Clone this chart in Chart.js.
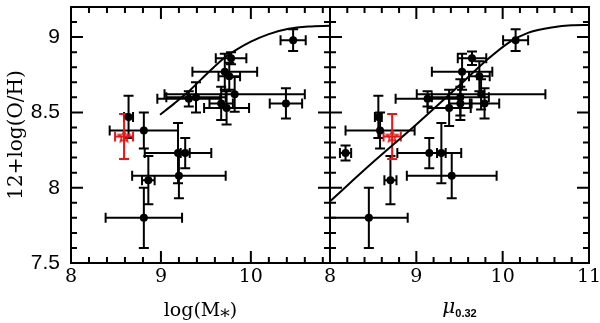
<!DOCTYPE html>
<html>
<head>
<meta charset="utf-8">
<script src="https://cdn.jsdelivr.net/npm/chart.js@4.4.1/dist/chart.umd.min.js"></script>
<style>
html, body { margin: 0; padding: 0; background: #fff; }
#wrap { position: relative; width: 600px; height: 323px; }
#wrap canvas { position: absolute; left: 0; top: 0; }
</style>
</head>
<body>
<div id="wrap">
  <canvas id="cvMass" width="600" height="323"></canvas>
  <canvas id="cvMu" width="600" height="323"></canvas>
</div>
<script>
//______________________________________________________
// left panel : 12+log(O/H) vs log(M*)
var massX    = [10.47, 9.78, 9.71, 9.76, 9.82, 9.31, 9.39, 9.67, 9.73, 10.39, 8.64, 8.81, 9.19, 9.27, 9.20, 8.86, 8.81];
var massY    = [8.98, 8.86, 8.77, 8.74, 8.62, 8.59, 8.60, 8.56, 8.53, 8.56, 8.47, 8.38, 8.23, 8.23, 8.08, 8.05, 7.80];
var massXErr = [0.14, 0.17, 0.36, 0.12, 0.78, 0.35, 0.33, 0.13, 0.25, 0.18, 0.05, 0.38, 0.37, 0.05, 0.52, 0.07, 0.425];
var massYErr = [0.073, 0.04, 0.12, 0.09, 0.115, 0.05, 0.10, 0.11, 0.11, 0.10, 0.14, 0.12, 0.20, 0.10, 0.15, 0.16, 0.20];
var redMassX = [8.59], redMassY = [8.34], redMassXErr = [0.10], redMassYErr = [0.15];
var fitMassX = [8.99, 9.15, 9.31, 9.50, 9.71, 9.85, 10.0, 10.2, 10.42, 10.64, 10.88];
var fitMassY = [8.485, 8.56, 8.64, 8.75, 8.865, 8.92, 8.97, 9.02, 9.055, 9.07, 9.075];

// right panel : 12+log(O/H) vs mu_0.32
var muX    = [10.15, 9.645, 9.53, 9.73, 9.75, 9.13, 9.51, 9.38, 9.51, 9.79, 8.56, 8.58, 9.15, 9.29, 9.41, 8.70, 8.45, 8.18];
var muY    = [8.98, 8.86, 8.77, 8.74, 8.62, 8.59, 8.60, 8.53, 8.56, 8.56, 8.47, 8.38, 8.23, 8.23, 8.08, 8.05, 7.80, 8.23];
var muXErr = [0.145, 0.165, 0.35, 0.12, 0.745, 0.37, 0.33, 0.25, 0.13, 0.17, 0.04, 0.40, 0.37, 0.05, 0.52, 0.07, 0.45, 0.065];
var muYErr = [0.073, 0.045, 0.12, 0.10, 0.10, 0.05, 0.12, 0.12, 0.11, 0.10, 0.14, 0.12, 0.10, 0.20, 0.15, 0.16, 0.20, 0.05];
var redMuX = [8.72], redMuY = [8.34], redMuXErr = [0.10], redMuYErr = [0.15];
var fitMuX = [8.0, 8.5, 9.0, 9.5, 9.8, 10.08, 10.3, 10.585, 10.8, 11.0];
var fitMuY = [7.91, 8.17, 8.42, 8.68, 8.84, 8.967, 9.03, 9.066, 9.078, 9.08];

var xTickLabels = [8, 9, 10, 11];
var yTickLabels = [7.5, 8, 8.5, 9];

const Red = 'rgb(232,22,22)';
const SerifFont = 'DejaVu Serif';
const SansFont = 'Liberation Sans';

//______________________________________________________
function toPoints(xs, ys) {
    return xs.map(function (x, i) { return {x: x, y: ys[i]}; });
}
//______________________________________________________
function makeStar(color, r) { // open five-point star used as point style
    var c = document.createElement('canvas');
    var s = Math.ceil(2 * r + 4);
    c.width = c.height = s;
    var g = c.getContext('2d');
    g.strokeStyle = color;
    g.lineWidth = 1.6;
    g.beginPath();
    for (var i = 0; i < 10; i++) {
        var a = -Math.PI / 2 + i * Math.PI / 5;
        var rr = (i % 2) ? r * 0.45 : r;
        g.lineTo(s / 2 + rr * Math.cos(a), s / 2 + rr * Math.sin(a));
    }
    g.closePath();
    g.stroke();
    return c;
}
//______________________________________________________
const errorBars = { // x and y error bars with caps
    id: 'errorBars',
    beforeDatasetsDraw(chart) {
        var ctx = chart.ctx, xs = chart.scales.x, ys = chart.scales.y, a = chart.chartArea;
        ctx.save();
        ctx.beginPath();
        ctx.rect(a.left, a.top, a.right - a.left, a.bottom - a.top);
        ctx.clip();
        chart.data.datasets.forEach(function (ds) {
            if (!ds.xErr) return;
            ctx.strokeStyle = ds.errColor;
            ctx.lineWidth = 2;
            ds.data.forEach(function (p, i) {
                var px = xs.getPixelForValue(p.x), py = ys.getPixelForValue(p.y);
                var x0 = xs.getPixelForValue(p.x - ds.xErr[i]), x1 = xs.getPixelForValue(p.x + ds.xErr[i]);
                var y0 = ys.getPixelForValue(p.y - ds.yErr[i]), y1 = ys.getPixelForValue(p.y + ds.yErr[i]);
                var c = ds.cap;
                ctx.beginPath();
                ctx.moveTo(x0, py); ctx.lineTo(x1, py);
                ctx.moveTo(x0, py - c); ctx.lineTo(x0, py + c);
                ctx.moveTo(x1, py - c); ctx.lineTo(x1, py + c);
                ctx.moveTo(px, y0); ctx.lineTo(px, y1);
                ctx.moveTo(px - c, y0); ctx.lineTo(px + c, y0);
                ctx.moveTo(px - c, y1); ctx.lineTo(px + c, y1);
                ctx.stroke();
            });
        });
        ctx.restore();
    }
};
//______________________________________________________
const frameTicks = { // box + inward major/minor ticks on all four sides
    id: 'frameTicks',
    afterDraw(chart, args, opts) {
        var ctx = chart.ctx, a = chart.chartArea, xs = chart.scales.x, ys = chart.scales.y;
        ctx.save();
        ctx.strokeStyle = '#000';
        ctx.lineWidth = 2;
        ctx.strokeRect(a.left, a.top, a.right - a.left, a.bottom - a.top);
        ctx.beginPath();
        var n, v, p, len;
        for (n = Math.ceil(xs.min / opts.xMinor - 1e-6); n * opts.xMinor <= xs.max + 1e-6; n++) {
            v = n * opts.xMinor;
            p = xs.getPixelForValue(v);
            len = Math.abs(v - Math.round(v / opts.xMajor) * opts.xMajor) < 1e-6 ? 12 : 6;
            ctx.moveTo(p, a.bottom); ctx.lineTo(p, a.bottom - len);
            ctx.moveTo(p, a.top); ctx.lineTo(p, a.top + len);
        }
        for (n = Math.ceil(ys.min / opts.yMinor - 1e-6); n * opts.yMinor <= ys.max + 1e-6; n++) {
            v = n * opts.yMinor;
            p = ys.getPixelForValue(v);
            len = Math.abs(v - Math.round(v / opts.yMajor) * opts.yMajor) < 1e-6 ? 12 : 6;
            ctx.moveTo(a.left, p); ctx.lineTo(a.left + len, p);
            ctx.moveTo(a.right, p); ctx.lineTo(a.right - len, p);
        }
        ctx.stroke();
        if (opts.muTitle) { // mu with subscript 0.32
            ctx.fillStyle = '#000';
            ctx.textBaseline = 'alphabetic';
            ctx.font = 'italic 20px "' + SerifFont + '"';
            var w1 = ctx.measureText('\u03bc').width;
            ctx.font = 'bold 11px "' + SansFont + '"';
            var w2 = ctx.measureText('0.32').width;
            var x0 = (a.left + a.right) / 2 - (w1 + w2) / 2;
            ctx.font = 'italic 20px "' + SerifFont + '"';
            ctx.fillText('\u03bc', x0, 313);
            ctx.font = 'bold 11px "' + SansFont + '"';
            ctx.fillText('0.32', x0 + w1, 317);
        }
        ctx.restore();
    }
};
//______________________________________________________
function pointSets(xs, ys, xe, ye, rxs, rys, rxe, rye, fx, fy) {
    return [
        { data: toPoints(fx, fy), showLine: true, borderColor: '#000', borderWidth: 2,
          pointRadius: 0, cubicInterpolationMode: 'monotone', fill: false },
        { data: toPoints(xs, ys), xErr: xe, yErr: ye, errColor: '#000', cap: 5,
          pointRadius: 4, pointBackgroundColor: '#000', pointBorderColor: '#000', pointBorderWidth: 0 },
        { data: toPoints(rxs, rys), xErr: rxe, yErr: rye, errColor: Red, cap: 5,
          pointStyle: makeStar(Red, 6), pointRadius: 6 }
    ];
}
//______________________________________________________
function xScale(max, title) {
    return {
        type: 'linear', position: 'bottom', min: 8, max: max,
        grid: { display: false, drawTicks: false }, border: { display: false },
        ticks: { stepSize: 1, includeBounds: false, autoSkip: false, maxRotation: 0, padding: 3,
                 color: '#000', font: { family: SerifFont, size: 19 },
                 callback: function (v) { return xTickLabels.indexOf(v) >= 0 ? String(v) : ''; } },
        title: { display: !!title, text: title, color: '#000',
                 font: { family: SerifFont, size: 19, lineHeight: 1.2 }, padding: { top: 0, bottom: 1 } },
        afterFit: function (s) { s.height = 60; s.paddingLeft = 0; s.paddingRight = 0; }
    };
}
//______________________________________________________
function initCharts() {
    new Chart('cvMass', {
        type: 'scatter',
        data: { datasets: pointSets(massX, massY, massXErr, massYErr,
                                    redMassX, redMassY, redMassXErr, redMassYErr, fitMassX, fitMassY) },
        options: {
            responsive: false, animation: false,
            layout: { padding: { left: 0, right: 270, top: 4, bottom: 0 } },
            plugins: { legend: { display: false }, tooltip: { enabled: false },
                       frameTicks: { xMinor: 0.2, xMajor: 1, yMinor: 0.1, yMajor: 0.5 } },
            scales: {
                x: xScale(10.88, 'log(M\u204e)'),
                y: {
                    type: 'linear', min: 7.5, max: 9.2,
                    grid: { display: false, drawTicks: false }, border: { display: false },
                    ticks: { stepSize: 0.5, includeBounds: false, padding: 11, color: '#000',
                             font: { family: SansFont, size: 21 },
                             callback: function (v) { return yTickLabels.indexOf(v) >= 0 ? String(v) : ''; } },
                    title: { display: true, text: '12+log(O/H)', color: '#000',
                             font: { family: SerifFont, size: 20, lineHeight: 1.2 }, padding: { top: 5, bottom: 0 } },
                    afterFit: function (s) { s.width = 71; s.paddingTop = 0; s.paddingBottom = 0; }
                }
            }
        },
        plugins: [errorBars, frameTicks]
    });

    new Chart('cvMu', {
        type: 'scatter',
        data: { datasets: pointSets(muX, muY, muXErr, muYErr,
                                    redMuX, redMuY, redMuXErr, redMuYErr, fitMuX, fitMuY) },
        options: {
            responsive: false, animation: false,
            layout: { padding: { left: 330, right: 11, top: 4, bottom: 0 } },
            plugins: { legend: { display: false }, tooltip: { enabled: false },
                       frameTicks: { xMinor: 0.2, xMajor: 1, yMinor: 0.1, yMajor: 0.5, muTitle: true } },
            scales: {
                x: xScale(11, ''),
                y: { type: 'linear', min: 7.5, max: 9.2, display: false }
            }
        },
        plugins: [errorBars, frameTicks]
    });
}
//______________________________________________________
initCharts();
</script>
</body>
</html>
